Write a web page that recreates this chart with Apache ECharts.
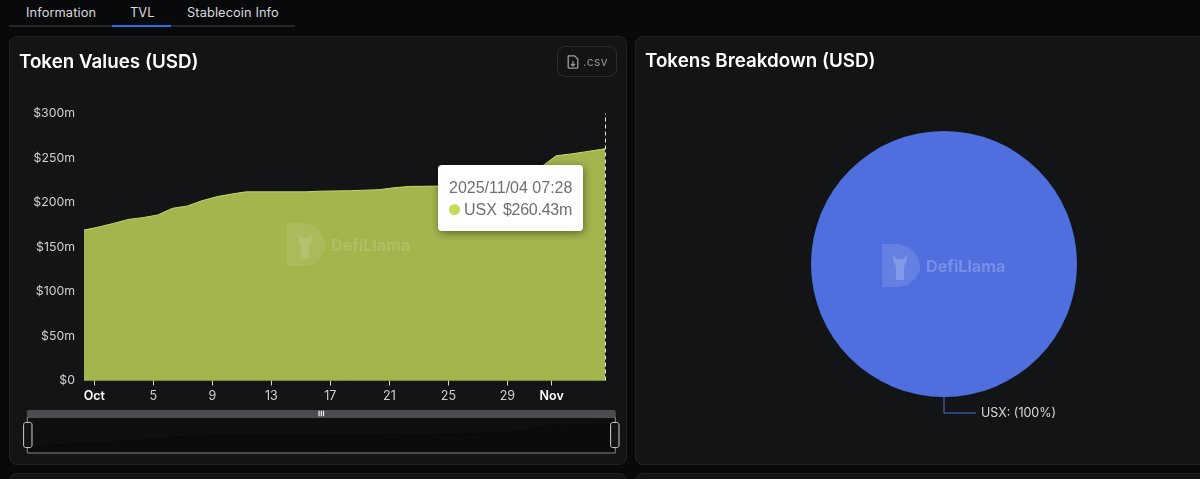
<!DOCTYPE html>
<html><head><meta charset="utf-8">
<script src="https://cdn.jsdelivr.net/npm/echarts@6/dist/echarts.min.js"></script>
<style>
html,body{margin:0;padding:0;width:1200px;height:479px;overflow:hidden;background:#08090b;font-family:Inter,"Noto Sans",sans-serif}
.panel{position:absolute;background:#131416;border:1px solid #202226;border-radius:8px;box-sizing:border-box}
.tab{position:absolute;top:5px;font-size:12.8px;color:#d8dadd;letter-spacing:.1px;white-space:nowrap}
#chart{position:absolute;left:0;top:0;width:1200px;height:479px}
#csv{position:absolute;left:557px;top:46px;width:60px;height:31px;box-sizing:border-box;border:1px solid #2a2c31;border-radius:8px;color:#8e9196;font-size:12px;line-height:29px;padding-left:25px;letter-spacing:.4px}
#csv svg{position:absolute;left:9px;top:8px}
</style></head><body>
<div style="position:absolute;left:9px;top:25px;width:286px;height:2px;background:#25272b"></div>
<div style="position:absolute;left:112px;top:25px;width:59px;height:2px;background:#2172e5"></div>
<div class="tab" style="left:26px">Information</div>
<div class="tab" style="left:130px">TVL</div>
<div class="tab" style="left:187px">Stablecoin Info</div>
<div class="panel" style="left:9px;top:36px;width:618px;height:429px"></div>
<div class="panel" style="left:635px;top:36px;width:575px;height:429px"></div>
<div class="panel" style="left:9px;top:473px;width:618px;height:30px"></div>
<div class="panel" style="left:635px;top:473px;width:575px;height:30px"></div>
<div id="chart"></div>
<div id="csv"><svg width="12" height="14" viewBox="0 0 12 14"><path d="M1.5 0.8H7.5L10.8 4V12.2A1 1 0 0 1 9.8 13.2H2.2A1 1 0 0 1 1.2 12.2V1.5Z" fill="none" stroke="#9a9da2" stroke-width="1.3"/><path d="M6 6V11M4 9L6 11L8 9" stroke="#9a9da2" stroke-width="1.2" fill="none"/></svg>.csv</div>
<script>
var dayMs = 86400000;
var startTime = Date.UTC(2025, 8, 30, 7, 12);
var endTime = Date.UTC(2025, 10, 4, 14, 50);
var usxValues = [169,172.5,176.5,181,183,186,193.5,196,202,206.5,209.5,212,212,212,212,212,212.7,213,213.2,213.8,214.4,216.5,218,218.2,218.5,219,219.5,220,220.5,222,230,240,252.5,254.5,257,259.5,260.43];
var tickDates = [[2025,9,1],[2025,9,5],[2025,9,9],[2025,9,13],[2025,9,17],[2025,9,21],[2025,9,25],[2025,9,29],[2025,10,1]];
var tickLabels = ['Oct','5','9','13','17','21','25','29','Nov'];
var yTicks = ['$0','$50m','$100m','$150m','$200m','$250m','$300m'];
var tooltipDate = '2025/11/04 07:28';
var tooltipValue = '$260.43m';
var seriesName = 'USX';
var pieData = [{name:'USX', value:260.43}];

var tickTimes = tickDates.map(function(d){return Date.UTC(d[0],d[1],d[2]);});
var points = usxValues.map(function(v,i){
  var t = i === usxValues.length-1 ? endTime : startTime + i*dayMs;
  return [t,v];
});
function watermark(x,y,op){
  return {type:'group',x:x,y:y,silent:true,children:[
    {type:'polygon',z:50,shape:{points:[[0,0],[17,0],[27,3],[34,10],[38,20],[38,26],[33,35],[26,41],[17,43],[0,43]]},style:{fill:'rgba(255,255,255,'+op*0.55+')'}},
    {type:'polygon',z:51,shape:{points:[[11,11],[15,15],[21,15],[25,11],[24,19],[22,22],[22,36],[14,36],[14,22],[12,19]]},style:{fill:'rgba(255,255,255,'+op*0.9+')'}},
    {type:'text',z:50,x:44,y:15,style:{text:'DefiLlama',fill:'rgba(255,255,255,'+op+')',font:'700 16.2px Inter, sans-serif'}}
  ]};
}
var chart = echarts.init(document.getElementById('chart'),null,{renderer:'canvas'});
chart.setOption({
  animation:false,
  backgroundColor:'transparent',
  title:[
    {text:'Token Values (USD)',left:14,top:48,textStyle:{color:'#fff',fontFamily:'Inter',fontWeight:600,fontSize:18.8}},
    {text:'Tokens Breakdown (USD)',left:640,top:47,textStyle:{color:'#fff',fontFamily:'Inter',fontWeight:600,fontSize:18.8}}
  ],
  grid:{left:84,width:521,top:113.5,height:267,containLabel:false},
  xAxis:{type:'value',min:startTime,max:endTime,
    axisLine:{show:true,lineStyle:{color:'#4f5a1f',width:1}},
    axisTick:{show:true,length:5,lineStyle:{color:'#d8d8d8'},customValues:tickTimes},
    splitLine:{show:false},
    axisLabel:{margin:9,fontFamily:'Inter',fontSize:12.5,color:'#cfd0d2',hideOverlap:false,
      customValues:tickTimes,
      formatter:function(v){var i=tickTimes.indexOf(v);var s=tickLabels[i]||'';return /[A-Za-z]/.test(s)?'{b|'+s+'}':s;},
      rich:{b:{fontFamily:'Inter',fontSize:12.5,fontWeight:600,color:'#fff'}}}
  },
  yAxis:{type:'value',min:0,max:300,interval:50,
    axisLine:{show:false},axisTick:{show:false},splitLine:{show:false},
    axisLabel:{margin:9,fontFamily:'Inter',fontSize:12.3,color:'#cfd0d2',
      formatter:function(v){return yTicks[v/50];}}
  },
  tooltip:{trigger:'axis',alwaysShowContent:true,transitionDuration:0,
    axisPointer:{type:'line',label:{show:false},lineStyle:{color:'#e8e8e8',type:[4,3],width:1}},
    backgroundColor:'#fff',borderWidth:0,padding:0,
    extraCssText:'border-radius:4px;box-shadow:1px 2px 8px rgba(0,0,0,.45);',
    position:function(){return [438,165];},
    formatter:function(){
      return '<div style="width:145px;height:66px;box-sizing:border-box;padding:12px 0 0 11px;font-family:\'Liberation Sans\',sans-serif;font-size:16px;line-height:22px;color:#707070;white-space:nowrap">'+
      tooltipDate+'<br><span style="display:inline-block;width:11px;height:11px;border-radius:50%;background:#c4dd5a;margin-right:4px"></span>'+seriesName+'<span style="margin-left:6px;letter-spacing:-.25px">'+tooltipValue+'</span></div>';
    }
  },
  dataZoom:[{type:'slider',xAxisIndex:0,left:24,width:589,top:410,height:37,start:0,end:100,filterMode:'none',
    showDetail:false,showDataShadow:true,brushSelect:true,
    backgroundColor:'#0e0f11',borderColor:'#8a8b8d',borderRadius:0,fillerColor:'rgba(0,0,0,0)',
    dataBackground:{lineStyle:{color:'#08090a',opacity:.6,width:.5},areaStyle:{color:'#0a0b0d',opacity:1}},
    selectedDataBackground:{lineStyle:{color:'#08090a',opacity:.6,width:.5},areaStyle:{color:'#0a0b0d',opacity:1}},
    handleIcon:'path://M2 0H6C7 0 8 1 8 2V22C8 23 7 24 6 24H2C1 24 0 23 0 22V2C0 1 1 0 2 0Z',
    handleSize:'68%',handleStyle:{color:'#131416',borderColor:'#d0d0d0',borderWidth:1},
    moveHandleSize:7,moveHandleStyle:{color:'#4a4c50',opacity:1},
    moveHandleIcon:'path://M0 0H2V10H0ZM4 0H6V10H4ZM8 0H10V10H8Z'
  }],
  series:[
    {type:'line',name:seriesName,data:points,showSymbol:false,symbol:'none',smooth:false,
      emphasis:{disabled:true},
      lineStyle:{color:'#c4d96a',width:1},itemStyle:{color:'#c4dd5a'},
      areaStyle:{color:'#a5b54e',opacity:1},z:2},
    {type:'pie',center:[944,264],radius:[0,133],startAngle:90,data:pieData,silent:true,
      tooltip:{show:false},
      itemStyle:{color:'#4f6fdf'},
      label:{show:true,position:'outside',formatter:'{b}: (100%)',color:'#d8dadd',fontFamily:'Inter',fontSize:12.5},
      labelLine:{show:true,length:16,length2:32,lineStyle:{color:'#4f6fdf',width:1}},
      emphasis:{disabled:true}}
  ],
  graphic:[watermark(287,223,0.13),watermark(882,244,0.22)]
});
chart.dispatchAction({type:'showTip',seriesIndex:0,dataIndex:points.length-1});
</script>
</body></html>
